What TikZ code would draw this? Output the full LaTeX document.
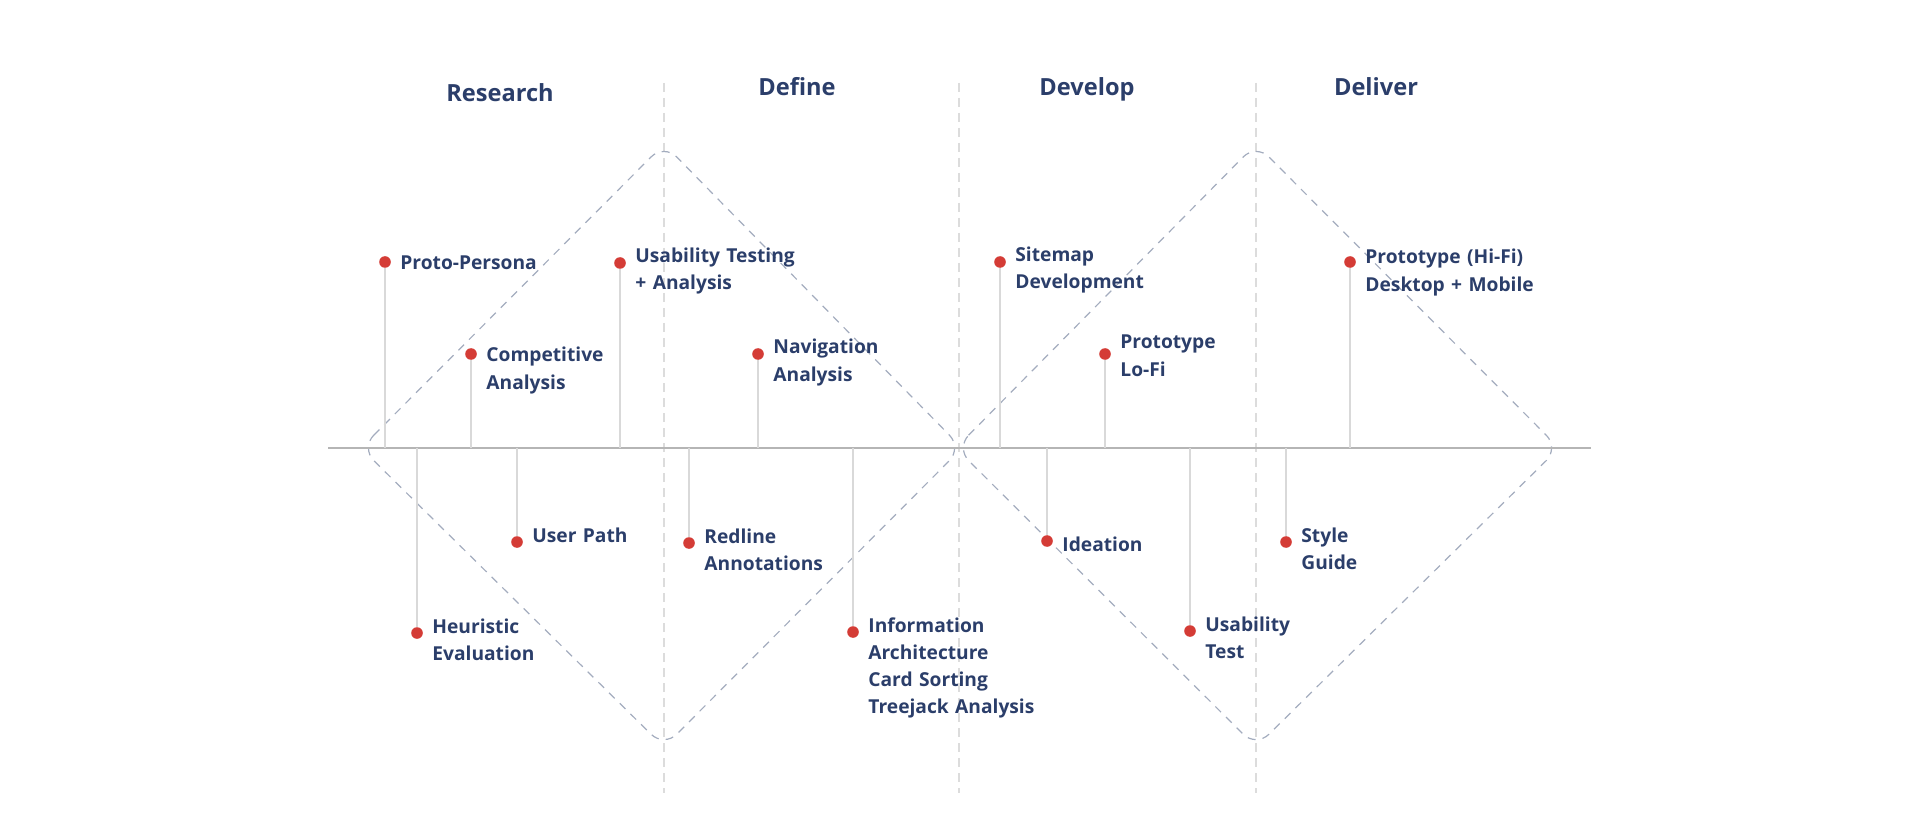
\documentclass[tikz,border=0pt]{standalone}
\usepackage{fontspec}
\newfontfamily\lblfont{Open Sans}
\begin{document}
\definecolor{ink}{HTML}{2B3E6A}
\definecolor{pin}{HTML}{D43C36}
\definecolor{stemgray}{HTML}{D9D9D9}
\definecolor{axisgray}{HTML}{B5B5B5}
\definecolor{sepgray}{HTML}{DCDCDC}
\definecolor{diamondblue}{HTML}{A3ACBE}
\begin{tikzpicture}[x=0.5pt,y=-0.5pt,
  heading/.style={anchor=base,inner sep=0pt,text=ink,font={\lblfont\bfseries\fontsize{11.8}{15}\selectfont}},
  lbl/.style={anchor=base west,inner sep=0pt,text=ink,text width=95pt,align=left,
    font={\lblfont\bfseries\fontsize{9.6}{13.5}\selectfont}},
  dot/.style={circle,fill=pin,draw=none,minimum size=5.8pt,inner sep=0pt},
  stem/.style={draw=stemgray,line width=1pt},
  axisline/.style={draw=axisgray,line width=0.8pt},
  separator/.style={draw=sepgray,line width=1pt,dash pattern=on 4.5pt off 3pt},
  phase/.style={draw=diamondblue,line width=0.6pt,dash pattern=on 4pt off 3.5pt,rounded corners=9pt}]
\useasboundingbox (0,0) rectangle (1920,828);

% phase separators
\foreach \x in {664,959,1256}
  \draw[separator] (\x,83) -- (\x,793);

% double diamond
\draw[phase] (361,448) -- (664,144) -- (962,448) -- (664,747) -- cycle;
\draw[phase] (956,448) -- (1256,144) -- (1559,448) -- (1256,747) -- cycle;

% time axis
\coordinate (axL) at (328,448);
\coordinate (axR) at (1591,448);
\draw[axisline] (axL) -- (axR);

% phase headings
\node[heading] (hResearch) at (500,102) {Research};
\node[heading] (hDefine) at (797,96) {Define};
\node[heading] (hDevelop) at (1087,96) {Develop};
\node[heading] (hDeliver) at (1376,96) {Deliver};

% activities above the axis
\node[dot] (d1) at (385,262) {};
\node[lbl] (t1) at (400,270) {Proto-Persona};
\node[dot] (d2) at (471,354) {};
\node[lbl] (t2) at (486,362) {Competitive\\Analysis};
\node[dot] (d3) at (620,263) {};
\node[lbl] (t3) at (635,263) {Usability Testing\\+ Analysis};
\node[dot] (d4) at (758,354) {};
\node[lbl] (t4) at (773,354) {Navigation\\Analysis};
\node[dot] (d5) at (1000,262) {};
\node[lbl] (t5) at (1015,262) {Sitemap\\Development};
\node[dot] (d6) at (1105,354) {};
\node[lbl] (t6) at (1120,349) {Prototype\\Lo-Fi};
\node[dot] (d7) at (1350,262) {};
\node[lbl] (t7) at (1365,264) {Prototype (Hi-Fi)\\Desktop + Mobile};

% activities below the axis
\node[dot] (d8) at (417,633) {};
\node[lbl] (t8) at (432,633) {Heuristic\\Evaluation};
\node[dot] (d9) at (517,542) {};
\node[lbl] (t9) at (532,542) {User Path};
\node[dot] (d10) at (689,543) {};
\node[lbl] (t10) at (704,543) {Redline\\Annotations};
\node[dot] (d11) at (853,632) {};
\node[lbl] (t11) at (868,632) {Information\\Architecture\\Card Sorting\\Treejack Analysis};
\node[dot] (d12) at (1047,541) {};
\node[lbl] (t12) at (1062,551) {Ideation};
\node[dot] (d13) at (1190,631) {};
\node[lbl] (t13) at (1205,631) {Usability\\Test};
\node[dot] (d14) at (1286,542) {};
\node[lbl] (t14) at (1301,542) {Style\\Guide};

% stems joining each activity to the axis
\foreach \i/\x in {1/385,2/471,3/620,4/758,5/1000,6/1105,7/1350,
                   8/417,9/517,10/689,11/853,12/1047,13/1190,14/1286}{
  \coordinate (s\i) at (\x,448);
  \draw[stem] (s\i) -- (d\i);
}
\end{tikzpicture}
\end{document}
